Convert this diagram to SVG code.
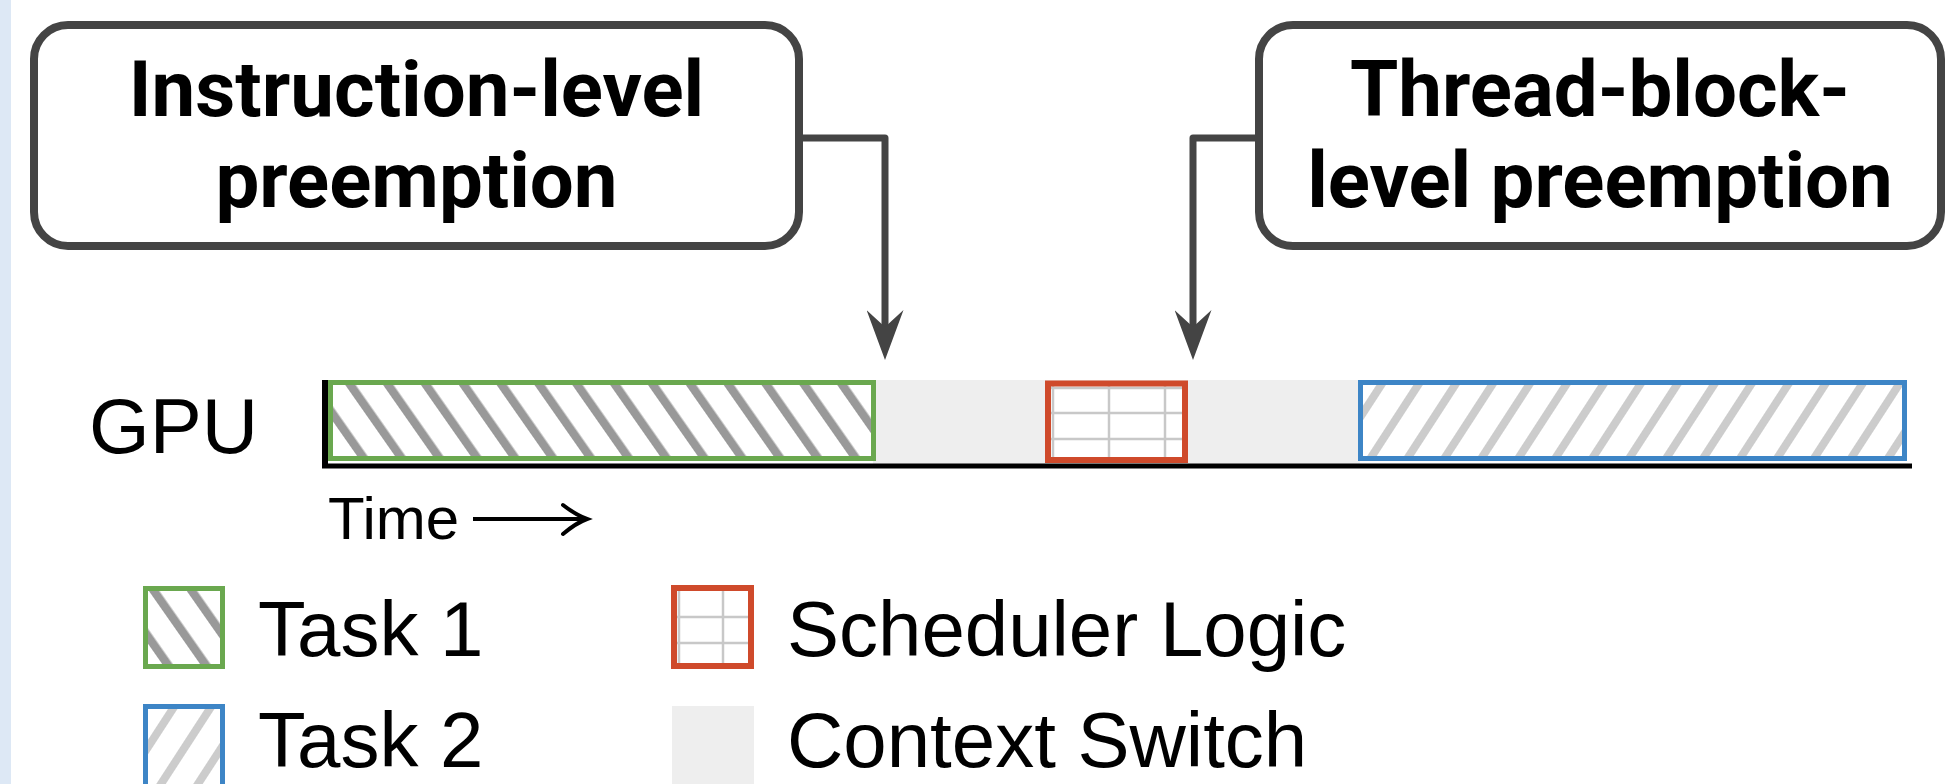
<svg xmlns="http://www.w3.org/2000/svg" width="1948" height="784" viewBox="0 0 1948 784">
  <style>
    .callout { fill: #ffffff; stroke: #444444; stroke-width: 8; }
    .ctext { font-family: Roboto, "Liberation Sans", sans-serif; font-weight: 700; font-size: 78px; fill: #000; text-anchor: middle; }
    .label { font-family: "Liberation Sans", Arial, sans-serif; font-size: 78px; fill: #000; }
    .conn { fill: none; stroke: #444444; stroke-width: 7; stroke-linejoin: round; }
    .grid { stroke: #c8c8c8; stroke-width: 2.5; }
  </style>
  <defs>
    <marker id="arrow" markerUnits="userSpaceOnUse" viewBox="0 0 50 37" markerWidth="50" markerHeight="37" refX="17" refY="18.5" orient="auto">
      <path d="M0,0 L50,18.5 L0,37 L17,18.5 Z" fill="#444444"/>
    </marker>
    <pattern id="hatch1" patternUnits="userSpaceOnUse" width="31" height="31" patternTransform="rotate(-35)">
      <rect width="31" height="31" fill="#ffffff"/>
      <rect x="0" y="0" width="8.5" height="31" fill="#999999"/>
    </pattern>
    <pattern id="hatch2" patternUnits="userSpaceOnUse" width="31" height="31" patternTransform="rotate(33)">
      <rect width="31" height="31" fill="#ffffff"/>
      <rect x="0" y="0" width="8" height="31" fill="#cccccc"/>
    </pattern>
  </defs>

  <rect x="0" y="0" width="11" height="784" fill="#dde8f5"/>

  <g id="callout-instruction">
    <rect class="callout" x="34" y="25" width="765" height="221" rx="34" ry="34"/>
    <text class="ctext" x="416.5" y="116">Instruction-level</text>
    <text class="ctext" x="416.5" y="207">preemption</text>
  </g>

  <g id="callout-threadblock">
    <rect class="callout" x="1259" y="25" width="682" height="221" rx="34" ry="34"/>
    <text class="ctext" x="1600" y="116">Thread-block-</text>
    <text class="ctext" x="1600" y="207">level preemption</text>
  </g>

  <g id="connectors">
    <path class="conn" d="M799,138 H885 V327" marker-end="url(#arrow)"/>
    <path class="conn" d="M1259,138 H1193 V327" marker-end="url(#arrow)"/>
  </g>

  <g id="timeline">
    <text class="label" x="89" y="453">GPU</text>
    <rect id="context-switch-band" x="873" y="380" width="487" height="84" fill="#eeeeee"/>
    <rect id="task1-bar" x="330.5" y="382.5" width="543" height="76" fill="url(#hatch1)" stroke="#6aa84f" stroke-width="5"/>
    <g id="scheduler-bar">
      <rect x="1048" y="383.5" width="137" height="76.5" fill="#ffffff"/>
      <line class="grid" x1="1053" y1="386" x2="1053" y2="457"/>
      <line class="grid" x1="1109" y1="386" x2="1109" y2="457"/>
      <line class="grid" x1="1165" y1="386" x2="1165" y2="457"/>
      <line class="grid" x1="1051" y1="388" x2="1182" y2="388"/>
      <line class="grid" x1="1051" y1="413" x2="1182" y2="413"/>
      <line class="grid" x1="1051" y1="439" x2="1182" y2="439"/>
      <rect x="1048" y="383.5" width="137" height="76.5" fill="none" stroke="#cf4a2b" stroke-width="6"/>
    </g>
    <rect id="task2-bar" x="1360.5" y="382.5" width="544" height="76" fill="url(#hatch2)" stroke="#3d85c6" stroke-width="5"/>
    <path d="M322,466 H1912" stroke="#000" stroke-width="5" fill="none"/>
    <path d="M325,380 V468" stroke="#000" stroke-width="6" fill="none"/>
    <text x="328" y="539" font-family="Liberation Sans, Arial, sans-serif" font-size="60" fill="#000">Time</text>
    <path d="M473,519 H585" stroke="#000" stroke-width="4" fill="none"/>
    <path d="M563,505 Q576,515 587,519 Q576,523 563,534" stroke="#000" stroke-width="4" fill="none" stroke-linecap="round"/>
  </g>

  <g id="legend-task1">
    <rect x="145.5" y="588.5" width="77" height="78" fill="url(#hatch1)" stroke="#6aa84f" stroke-width="5"/>
    <text class="label" x="258" y="656">Task 1</text>
  </g>
  <g id="legend-task2">
    <rect x="145.5" y="706.5" width="77" height="80" fill="url(#hatch2)" stroke="#3d85c6" stroke-width="5"/>
    <text class="label" x="258" y="767">Task 2</text>
  </g>
  <g id="legend-scheduler">
    <rect x="674" y="588" width="77" height="78" fill="#ffffff"/>
    <line class="grid" x1="679" y1="591" x2="679" y2="663"/>
    <line class="grid" x1="723" y1="591" x2="723" y2="663"/>
    <line class="grid" x1="677" y1="617" x2="748" y2="617"/>
    <line class="grid" x1="677" y1="643" x2="748" y2="643"/>
    <rect x="674" y="588" width="77" height="78" fill="none" stroke="#cf4a2b" stroke-width="6"/>
    <text class="label" x="787" y="656">Scheduler Logic</text>
  </g>
  <g id="legend-context">
    <rect x="672" y="706" width="82" height="78" fill="#eeeeee"/>
    <text class="label" x="787" y="767">Context Switch</text>
  </g>
</svg>
